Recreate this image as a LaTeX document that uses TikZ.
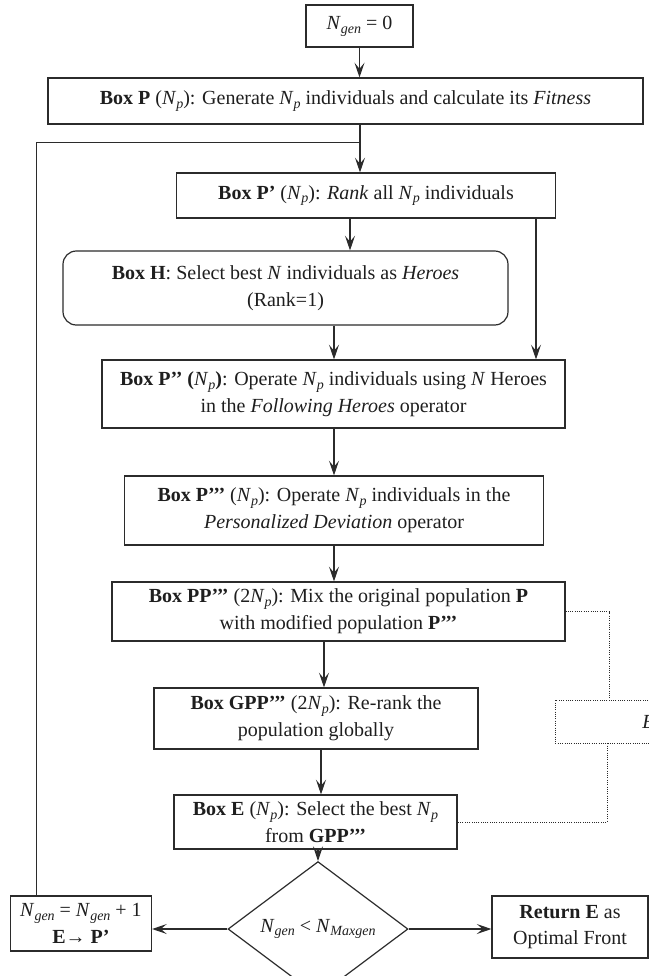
\documentclass[tikz,border=0pt]{standalone}
\usepackage{fontspec}
\setmainfont{Liberation Serif}
\usetikzlibrary{arrows.meta,shapes.geometric}
\definecolor{ln}{HTML}{2B2B2B}
\definecolor{tx}{HTML}{1E1E1E}
\newcommand\subi[1]{\raisebox{-0.4ex}{\fontsize{10.5}{10.5}\selectfont\textit{#1}}}
\newcommand\Np{\textit{N}\subi{p}}
\newcommand\Ng{\textit{N}\subi{gen}}
\begin{document}
\begin{tikzpicture}[x=0.75pt,y=-0.75pt,
  every node/.style={font=\fontsize{15}{20}\selectfont, text=tx, inner sep=0pt, align=center},
  box/.style={draw=ln, line width=0.9pt, rectangle},
  rbox/.style={box, rounded corners=10pt},
  dbox/.style={draw=ln, line width=0.7pt, densely dotted, rectangle},
  arr/.style={draw=ln, line width=0.8pt, -{Stealth[length=11pt,width=7.5pt,inset=4.5pt]}},
  lin/.style={draw=ln, line width=0.7pt},
  dln/.style={draw=ln, line width=0.7pt, densely dotted}]
\clip (0,0) rectangle (649,976);
% nodes
\node[box, minimum width=80.25pt, minimum height=31.5pt] (n0) at (359.5,26) {\Ng{} = 0};
\node[box, minimum width=446.25pt, minimum height=34.5pt] (bP) at (345.5,101)
  {\textbf{Box P} (\Np): Generate \Np{} individuals and calculate its \textit{Fitness}};
\node[box, minimum width=284.6pt, minimum height=33.75pt] (bP1) at (366,195.5)
  {\textbf{Box P’} (\Np): \textit{Rank} all \Np{} individuals};
\node[rbox, minimum width=333.75pt, minimum height=55.5pt] (bH) at (285.5,288)
  {\textbf{Box H}: Select best \textit{N} individuals as \textit{Heroes}\\(Rank=1)};
\node[box, minimum width=347.25pt, minimum height=51pt] (bP2) at (333.5,394)
  {\textbf{Box P’’ (}\Np\textbf{)}: Operate \Np{} individuals using \textit{N} Heroes\\in the \textit{Following Heroes} operator};
\node[box, minimum width=313.8pt, minimum height=51.75pt] (bP3) at (334,510.5)
  {\textbf{Box P’’’} (\Np): Operate \Np{} individuals in the\\\textit{Personalized Deviation} operator};
\node[box, minimum width=339.75pt, minimum height=44.25pt] (bPP) at (338.5,611.5)
  {\textbf{Box PP’’’} (2\Np): Mix the original population \textbf{P}\\with modified population \textbf{P’’’}};
\node[box, minimum width=243pt, minimum height=45.75pt] (bG) at (316,718.5)
  {\textbf{Box GPP’’’} (2\Np): Re-rank the\\population globally};
\node[box, minimum width=212.25pt, minimum height=40.5pt] (bE) at (315.5,822)
  {\textbf{Box E} (\Np): Select the best \Np\\from \textbf{GPP’’’}};
\node[box, diamond, minimum width=135pt, minimum height=70.5pt] (dia) at (318,929)
  {\Ng{} < \textit{N}\subi{Maxgen}};
\node[box, minimum width=105.75pt, minimum height=41.25pt] (lb) at (81,923.5)
  {\Ng{} = \Ng{} + 1\\\textbf{E→ P’}};
\node[box, minimum width=117pt, minimum height=46.5pt] (rb) at (570,927)
  {\textbf{Return E} as\\Optimal Front};
\node[dbox, anchor=west, minimum width=153.75pt, minimum height=32.25pt] (db) at (555,721.5) {};
\node[anchor=west] (dt) at (642,721.5) {\textit{E}};
% coordinates
\coordinate (lp) at (36,142);
\coordinate (j1) at (360,142);
\coordinate (xa) at (350,0);
\coordinate (xb) at (536,0);
\coordinate (xc) at (334,0);
\coordinate (xd) at (324,0);
\coordinate (xe) at (321,0);
\coordinate (xg) at (609,0);
\coordinate (xh) at (607,0);
% connectors
\draw[arr] (n0.south) -- (n0.south |- bP.north);
\draw[lin] (lb.north -| lp) -- (lp) -- (j1);
\draw[arr] (bP.south -| j1) -- (bP1.north -| j1);
\draw[arr] (bP1.south -| xa) -- (bH.north -| xa);
\draw[arr] (bP1.south -| xb) -- (bP2.north -| xb);
\draw[arr] (bH.south -| xc) -- (bP2.north -| xc);
\draw[arr] (bP2.south -| xc) -- (bP3.north -| xc);
\draw[arr] (bP3.south -| xc) -- (bPP.north -| xc);
\draw[arr] (bPP.south -| xd) -- (bG.north -| xd);
\draw[arr] (bG.south -| xe) -- (bE.north -| xe);
\draw[arr] (bE.south -| dia.north) -- (dia.north);
\draw[arr] (dia.west) -- (dia.west -| lb.east);
\draw[arr] (dia.east) -- (dia.east -| rb.west);
\draw[dln] (bPP.east) -| (db.north -| xg);
\draw[dln] (db.south -| xh) |- (bE.east);
\end{tikzpicture}
\end{document}
